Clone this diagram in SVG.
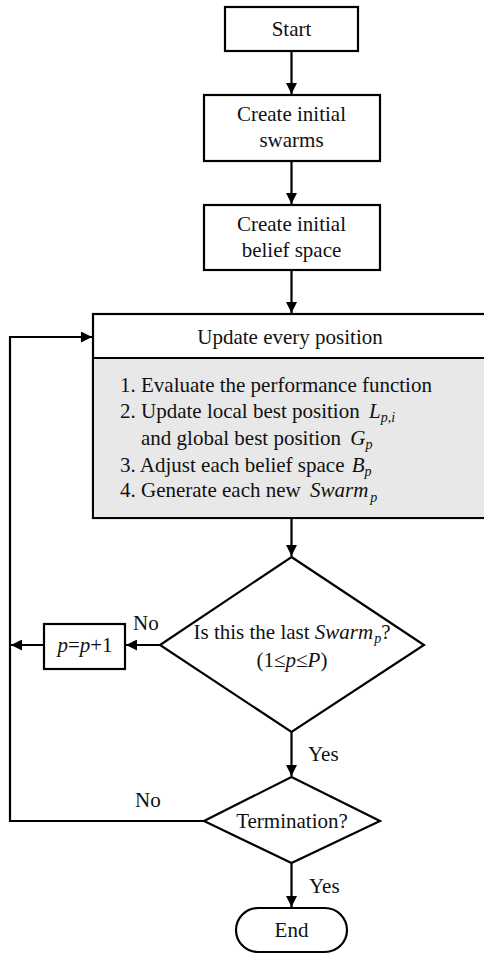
<svg xmlns="http://www.w3.org/2000/svg" width="484" height="954" viewBox="0 0 484 954">
<defs>
<marker id="ah" viewBox="0 0 10 10" refX="10" refY="5" markerWidth="5" markerHeight="5" markerUnits="strokeWidth" orient="auto">
<path d="M0,0 L10,5 L0,10 Z" fill="#000"/>
</marker>
<style>
.box{fill:#fff;stroke:#000;stroke-width:2.2}
text{font-family:'Liberation Serif','Times New Roman','DejaVu Serif',serif;font-size:21px;fill:#111}
.c{text-anchor:middle}
.i{font-style:italic}
.s{font-size:14px}
.ln{fill:none;stroke:#000;stroke-width:2.2}
</style>
</defs>
<rect width="484" height="954" fill="#fff"/>
<g id="connectors">
<line class="ln" x1="291.5" y1="51" x2="291.5" y2="94" marker-end="url(#ah)"/>
<line class="ln" x1="291.5" y1="161" x2="291.5" y2="204" marker-end="url(#ah)"/>
<line class="ln" x1="291.5" y1="270" x2="291.5" y2="313" marker-end="url(#ah)"/>
<line class="ln" x1="291.5" y1="518" x2="291.5" y2="556" marker-end="url(#ah)"/>
<line class="ln" x1="160" y1="645" x2="126" y2="645" marker-end="url(#ah)"/>
<line class="ln" x1="44" y1="645" x2="11" y2="645" marker-end="url(#ah)"/>
<line class="ln" x1="291.5" y1="732" x2="291.5" y2="776" marker-end="url(#ah)"/>
<line class="ln" x1="291.5" y1="863" x2="291.5" y2="907" marker-end="url(#ah)"/>
<polyline class="ln" points="204,821 10,821 10,337 92,337" marker-end="url(#ah)"/>
<text x="133" y="630">No</text>
<text x="308" y="761">Yes</text>
<text x="135" y="807">No</text>
<text x="309" y="893">Yes</text>
</g>
<g id="start">
<rect class="box" x="225" y="7" width="133" height="44"/>
<text class="c" x="291.5" y="36">Start</text>
</g>
<g id="swarms">
<rect class="box" x="204" y="95" width="176" height="66"/>
<text class="c" x="291.5" y="121">Create initial</text>
<text class="c" x="291.5" y="147">swarms</text>
</g>
<g id="belief">
<rect class="box" x="204" y="205" width="176" height="65"/>
<text class="c" x="291.5" y="231">Create initial</text>
<text class="c" x="291.5" y="257">belief space</text>
</g>
<g id="update">
<rect class="box" x="93" y="314" width="400" height="204"/>
<rect x="94.1" y="358" width="392" height="158.9" fill="#e8e8e8"/>
<line class="ln" x1="93" y1="358" x2="486" y2="358"/>
<text class="c" x="290" y="344">Update every position</text>
<text x="120" y="392">1. Evaluate the performance function</text>
<text x="120" y="418">2. Update local best position <tspan class="i" dx="4">L</tspan><tspan class="i s" dy="4">p,i</tspan></text>
<text x="141" y="445">and global best position <tspan class="i" dx="4">G</tspan><tspan class="i s" dy="4">p</tspan></text>
<text x="120" y="472">3. Adjust each belief space <tspan class="i" dx="2">B</tspan><tspan class="i s" dy="4">p</tspan></text>
<text x="120" y="497">4. Generate each new <tspan class="i" dx="4">Swarm</tspan><tspan class="i s" dx="2" dy="5">p</tspan></text>
</g>
<g id="lastswarm">
<polygon class="box" points="291.5,557 424,645 291.5,732 160,645"/>
<text class="c" x="292" y="639">Is this the last <tspan class="i">Swarm</tspan><tspan class="i s" dx="1" dy="4">p</tspan><tspan dy="-4">?</tspan></text>
<text class="c" x="292" y="667">(1≤<tspan class="i">p</tspan>≤<tspan class="i">P</tspan>)</text>
</g>
<g id="increment">
<rect class="box" x="44" y="624" width="81" height="45"/>
<text class="c" x="85" y="652"><tspan class="i">p</tspan>=<tspan class="i">p</tspan>+1</text>
</g>
<g id="termination">
<polygon class="box" points="291.5,777 380,821 291.5,863 204,821"/>
<text class="c" x="292" y="828">Termination?</text>
</g>
<g id="end">
<rect class="box" x="236" y="908" width="111" height="44" rx="22" ry="22"/>
<text class="c" x="291.5" y="937">End</text>
</g>
</svg>
